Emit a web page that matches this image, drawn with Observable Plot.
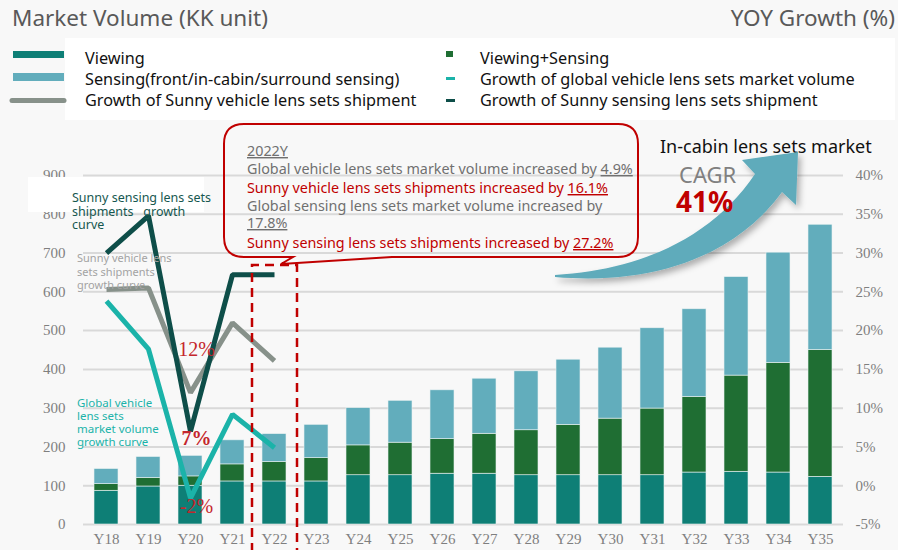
<!DOCTYPE html>
<html><head><meta charset="utf-8">
<script src="https://cdn.jsdelivr.net/npm/d3@7"></script>
<script src="https://cdn.jsdelivr.net/npm/@observablehq/plot@0.6"></script>
<style>
body{margin:0;background:#f8f8f8;}
#wrap{position:relative;width:898px;height:550px;overflow:hidden;background:#f8f8f8;}
#chart{position:absolute;left:0;top:0;}
#ov{position:absolute;left:0;top:0;pointer-events:none;}
#ov text{font-family:"Noto Sans",sans-serif;}
</style></head><body>
<div id="wrap"><div id="chart"></div>
<svg id="ov" width="898" height="550" xmlns="http://www.w3.org/2000/svg">
  <defs>
    <filter id="sh" x="-20%" y="-20%" width="140%" height="140%">
      <feDropShadow dx="3" dy="4" stdDeviation="3" flood-color="#000" flood-opacity="0.3"/>
    </filter>
  </defs>
  <!-- titles -->
  <text x="12" y="26" font-size="22.5" fill="#595959">Market Volume (KK unit)</text>
  <text x="895" y="26" font-size="22.5" fill="#595959" text-anchor="end">YOY Growth (%)</text>
  <!-- legend -->
  <rect x="65" y="38" width="830" height="82" fill="#ffffff"/>
  <rect x="13" y="51" width="51" height="7" fill="#0e7f76"/>
  <rect x="13" y="73" width="51" height="8" fill="#62adbc"/>
  <line x1="12" y1="100.5" x2="64" y2="100.5" stroke="#87918a" stroke-width="5" stroke-linecap="round"/>
  <g font-size="16.25" fill="#111">
    <text x="85" y="64">Viewing</text>
    <text x="85" y="85">Sensing(front/in-cabin/surround sensing)</text>
    <text x="85" y="106">Growth of Sunny vehicle lens sets shipment</text>
    <text x="480" y="64">Viewing+Sensing</text>
    <text x="480" y="85">Growth of global vehicle lens sets market volume</text>
    <text x="480" y="106">Growth of Sunny sensing lens sets shipment</text>
  </g>
  <rect x="446" y="51" width="7" height="6" fill="#1f6e33"/>
  <rect x="446" y="77" width="9" height="3" fill="#1bb3a9"/>
  <rect x="446" y="99" width="9" height="3" fill="#0e4e49"/>
  <!-- dashed highlight of 2022 -->
  <path d="M252,552 V265 H297 V552" fill="none" stroke="#c00000" stroke-width="2.5" stroke-dasharray="9,6"/>
  <!-- callout box -->
  <path d="M244,124 H618 Q638,124 638,144 V237 Q638,257 618,257 H392 L281,264 L293,257 H244 Q224,257 224,237 V144 Q224,124 244,124 Z" fill="none" stroke="#c00000" stroke-width="2"/>
  <g font-size="14.35">
    <text x="247" y="156" fill="#707070" text-decoration="underline">2022Y</text>
    <text x="247" y="174" fill="#707070">Global vehicle lens sets market volume increased by <tspan text-decoration="underline">4.9%</tspan></text>
    <text x="247" y="193" fill="#c00000">Sunny vehicle lens sets shipments increased by <tspan text-decoration="underline">16.1%</tspan></text>
    <text x="247" y="211" fill="#707070">Global sensing lens sets market volume increased  by</text>
    <text x="247" y="228" fill="#707070" text-decoration="underline">17.8%</text>
    <text x="247" y="248" fill="#c00000">Sunny sensing lens sets shipments increased by <tspan text-decoration="underline">27.2%</tspan></text>
  </g>
  <!-- in-cabin market arrow -->
  <text x="660" y="153" font-size="18" fill="#111">In-cabin lens sets market</text>
  <path d="M555,275 C640,270 712,238 755,174 L742,160 L798,152 L796,205 L782,192 C738,252 660,286 555,277 Z" fill="#5eabbb" filter="url(#sh)"/>
  <text x="679" y="183" font-size="22" fill="#808080">CAGR</text>
  <text x="676" y="212" font-size="28" font-weight="bold" fill="#c00000">41%</text>
</svg>
</div>
<script>
const years = ["Y18","Y19","Y20","Y21","Y22","Y23","Y24","Y25","Y26","Y27","Y28","Y29","Y30","Y31","Y32","Y33","Y34","Y35"];
const viewing        = [87, 98, 100, 111, 111, 111, 127, 127, 131, 131, 127, 127, 127, 127, 134, 136, 134, 123];
const viewingSensing = [17, 22, 24, 44, 50, 60, 77, 84, 89, 103, 116, 130, 146, 172, 195, 248, 283, 327];
const sensing        = [39, 54, 53, 62, 72, 86, 96, 108, 126, 142, 152, 168, 183, 207, 226, 254, 284, 323];

const lineYears = ["Y18","Y19","Y20","Y21","Y22"];
const globalGrowth       = [23.8, 17.6, -1.6, 9.2, 4.9];
const sunnyVehicleGrowth = [25.3, 25.5, 12.0, 21.0, 16.1];
const sunnySensingGrowth = [30.0, 34.8, 7.0, 27.2, 27.2];

const leftTicks  = [0, 100, 200, 300, 400, 500, 600, 700, 800, 900];
const rightTicks = [-5, 0, 5, 10, 15, 20, 25, 30, 35, 40];

const seriesNames  = ["Viewing", "Viewing+Sensing", "Sensing"];
const seriesColors = ["#0e7f76", "#1f6e33", "#62adbc"];

const pctLabels = [
  {year: "Y20", pct: 12,   text: "12%", dy: -37, bold: false},
  {year: "Y20", pct: 7,    text: "7%",  dy: 14,  bold: true},
  {year: "Y20", pct: -1.6, text: "-2%", dy: 15,  bold: false}
];

// right axis (%) mapped onto the left axis (units): -5% ↔ 0, 40% ↔ 900
const toLeft = p => (p + 5) * 20;

const barRows = [];
years.forEach((y, i) => {
  barRows.push({year: y, series: seriesNames[0], value: viewing[i]});
  barRows.push({year: y, series: seriesNames[1], value: viewingSensing[i]});
  barRows.push({year: y, series: seriesNames[2], value: sensing[i]});
});
const lineRows = arr => lineYears.map((y, i) => ({year: y, pct: arr[i]}));

const whiteBox = () => {
  const r = document.createElementNS("http://www.w3.org/2000/svg", "rect");
  r.setAttribute("x", 28); r.setAttribute("y", 177);
  r.setAttribute("width", 176); r.setAttribute("height", 35);
  r.setAttribute("fill", "#ffffff");
  return r;
};

const lineOpts = (stroke) => ({
  x: "year", y: d => toLeft(d.pct), stroke, strokeWidth: 5,
  strokeLinejoin: "miter", strokeLinecap: "butt", curve: "linear"
});

const chart = Plot.plot({
  width: 898, height: 550,
  marginLeft: 83, marginRight: 55, marginTop: 175, marginBottom: 26,
  style: {fontFamily: '"Liberation Serif", serif', fontSize: "15px", color: "#7f7f7f", background: "transparent", overflow: "visible"},
  x: {domain: years, paddingInner: 0.43, paddingOuter: 0.22, label: null},
  y: {domain: [0, 900], label: null},
  color: {domain: seriesNames, range: seriesColors},
  marks: [
    Plot.gridY(leftTicks, {stroke: "#d9d9d9", strokeOpacity: 1, strokeWidth: 2}),
    Plot.axisY(leftTicks, {anchor: "left", tickSize: 0, tickPadding: 18, label: null}),
    Plot.axisY(rightTicks.map(toLeft), {anchor: "right", tickSize: 0, tickPadding: 12, label: null,
      tickFormat: v => `${Math.round(v / 20 - 5)}%`}),
    Plot.axisX({tickSize: 0, tickPadding: 9, label: null}),
    Plot.barY(barRows, {x: "year", y: "value", fill: "series", stroke: "#e9f2f2", strokeWidth: 0.6}),
    whiteBox,
    Plot.line(lineRows(sunnyVehicleGrowth), lineOpts("#87918a")),
    Plot.line(lineRows(globalGrowth), lineOpts("#1bb3a9")),
    Plot.line(lineRows(sunnySensingGrowth), lineOpts("#0e4e49")),
    ...pctLabels.map(d => Plot.text([d], {x: "year", y: r => toLeft(r.pct), text: "text", dx: 6, dy: d.dy,
      lineAnchor: "bottom", fill: "#c4262c", fontSize: 20, fontFamily: '"Liberation Serif", serif',
      fontWeight: d.bold ? "bold" : "normal"}))
  ]
});
document.getElementById("chart").appendChild(chart);

// curve labels (annotation text on the plot)
const svg = d3.select(chart);
const notes = [
  {lines: ["Sunny sensing lens sets", "shipments   growth", "curve"], x: 72, y: 202, dy: 13.5, size: 12.5, color: "#16574f"},
  {lines: ["Sunny vehicle lens", "sets shipments", "growth curve"], x: 77, y: 262, dy: 13.5, size: 11, color: "#a3a3a3"},
  {lines: ["Global vehicle", "lens sets", "market volume", "growth curve"], x: 77, y: 407, dy: 13, size: 11.5, color: "#1bb3a9"}
];
notes.forEach(n => {
  const t = svg.append("text").attr("font-family", '"Noto Sans", sans-serif').attr("font-size", n.size)
    .attr("fill", n.color).attr("text-anchor", "start").style("white-space", "pre");
  n.lines.forEach((l, i) => t.append("tspan").attr("x", n.x).attr("y", n.y + i * n.dy).text(l));
});
</script>
</body></html>
